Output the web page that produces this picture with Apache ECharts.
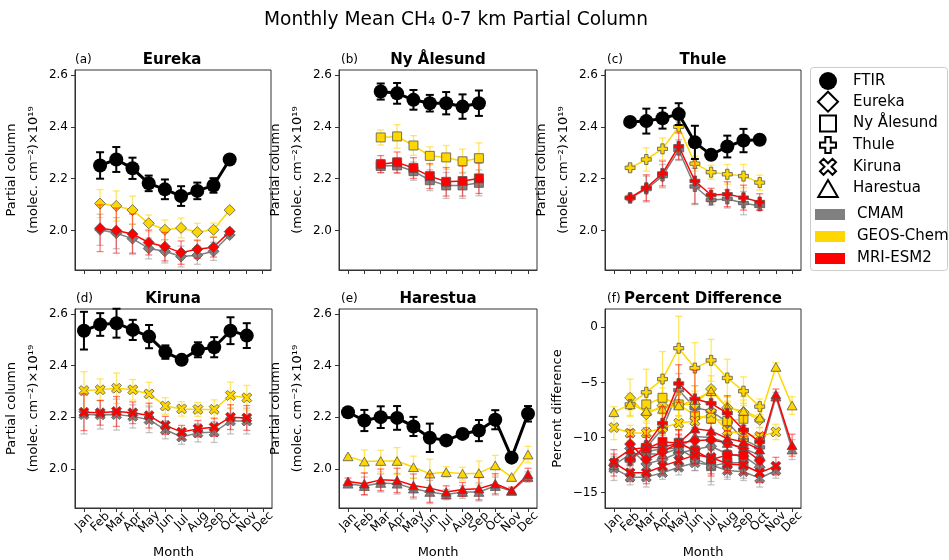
<!DOCTYPE html>
<html lang="en">
<head>
<meta charset="UTF-8">
<title>Monthly Mean CH4 0-7 km Partial Column</title>
<script src="https://cdn.jsdelivr.net/npm/echarts@6/dist/echarts.min.js"></script>
<style>
    html, body { margin: 0; background: #fff; }
    #main { width: 949px; height: 560px; }
</style>
</head>
<body>
<div id="main"></div>
<script>
    const _ = null;
    const months = ['Jan', 'Feb', 'Mar', 'Apr', 'May', 'Jun', 'Jul', 'Aug', 'Sep', 'Oct', 'Nov', 'Dec'];
    const monthTicks = [1, 2, 3, 4, 5, 6, 7, 8, 9, 10, 11, 12];
    const columnTicks = [2.0, 2.2, 2.4, 2.6];
    const pctTicks = [-15, -10, -5, 0];

    // partial column (x1e19 molec. cm-2), Jan..Dec, null = no data
    const eurFTIR  = [_, 2.251, 2.274, 2.240, 2.182, 2.159, 2.133, 2.153, 2.174, 2.274, _, _];
    const eurFTIRe = [_, 0.051, 0.048, 0.041, 0.030, 0.038, 0.038, 0.032, 0.028, 0.004, _, _];
    const eurGEOS  = [_, 2.104, 2.095, 2.079, 2.028, 2.003, 2.010, 1.994, 2.003, 2.079, _, _];
    const eurGEOSe = [_, 0.054, 0.058, 0.054, 0.032, 0.038, 0.038, 0.034, 0.026, 0.005, _, _];
    const eurMRI   = [_, 2.009, 2.000, 1.987, 1.954, 1.938, 1.915, 1.928, 1.936, 1.996, _, _];
    const eurMRIe  = [_, 0.090, 0.087, 0.077, 0.048, 0.055, 0.045, 0.035, 0.038, 0.010, _, _];
    const eurCMAM  = [_, 2.003, 1.990, 1.969, 1.931, 1.920, 1.900, 1.905, 1.920, 1.983, _, _];
    const eurCMAMe = [_, 0.060, 0.060, 0.055, 0.040, 0.045, 0.040, 0.035, 0.035, 0.010, _, _];

    const nyaFTIR  = [_, _, 2.536, 2.529, 2.504, 2.491, 2.491, 2.478, 2.491, _, _, _];
    const nyaFTIRe = [_, _, 0.031, 0.040, 0.038, 0.032, 0.043, 0.047, 0.049, _, _, _];
    const nyaGEOS  = [_, _, 2.359, 2.363, 2.328, 2.288, 2.282, 2.267, 2.279, _, _, _];
    const nyaGEOSe = [_, _, 0.029, 0.045, 0.038, 0.035, 0.046, 0.047, 0.059, _, _, _];
    const nyaMRI   = [_, _, 2.256, 2.263, 2.241, 2.210, 2.188, 2.191, 2.201, _, _, _];
    const nyaMRIe  = [_, _, 0.033, 0.040, 0.040, 0.048, 0.055, 0.058, 0.058, _, _, _];
    const nyaCMAM  = [_, _, 2.249, 2.251, 2.229, 2.194, 2.174, 2.174, 2.184, _, _, _];
    const nyaCMAMe = [_, _, 0.025, 0.030, 0.035, 0.040, 0.050, 0.050, 0.050, _, _, _];

    const thuFTIR  = [_, 2.419, 2.422, 2.433, 2.449, 2.340, 2.292, 2.324, 2.347, 2.350, _, _];
    const thuFTIRe = [_, 0.004, 0.048, 0.040, 0.042, 0.064, 0.004, 0.042, 0.045, 0.004, _, _];
    const thuGEOS  = [_, 2.242, 2.274, 2.315, 2.400, 2.258, 2.225, 2.217, 2.210, 2.185, _, _];
    const thuGEOSe = [_, 0.010, 0.045, 0.042, 0.022, 0.029, 0.027, 0.038, 0.045, 0.029, _, _];
    const thuMRI   = [_, 2.127, 2.165, 2.220, 2.325, 2.191, 2.137, 2.140, 2.127, 2.110, _, _];
    const thuMRIe  = [_, 0.010, 0.050, 0.048, 0.051, 0.087, 0.026, 0.048, 0.048, 0.032, _, _];
    const thuCMAM  = [_, 2.125, 2.160, 2.210, 2.310, 2.170, 2.118, 2.122, 2.106, 2.095, _, _];
    const thuCMAMe = [_, 0.010, 0.050, 0.045, 0.040, 0.070, 0.020, 0.035, 0.045, 0.015, _, _];

    const kirFTIR  = [2.535, 2.559, 2.564, 2.538, 2.512, 2.452, 2.422, 2.461, 2.471, 2.535, 2.516, _];
    const kirFTIRe = [0.073, 0.044, 0.056, 0.039, 0.045, 0.026, 0.016, 0.029, 0.039, 0.052, 0.048, _];
    const kirGEOS  = [2.303, 2.306, 2.312, 2.306, 2.290, 2.243, 2.232, 2.230, 2.230, 2.284, 2.275, _];
    const kirGEOSe = [0.073, 0.042, 0.059, 0.040, 0.045, 0.032, 0.028, 0.027, 0.037, 0.052, 0.048, _];
    const kirMRI   = [2.219, 2.217, 2.222, 2.217, 2.206, 2.168, 2.142, 2.155, 2.161, 2.200, 2.197, _];
    const kirMRIe  = [0.071, 0.048, 0.058, 0.042, 0.048, 0.035, 0.026, 0.032, 0.035, 0.048, 0.048, _];
    const kirCMAM  = [2.210, 2.209, 2.210, 2.203, 2.190, 2.151, 2.123, 2.139, 2.142, 2.185, 2.185, _];
    const kirCMAMe = [0.075, 0.055, 0.060, 0.045, 0.050, 0.035, 0.028, 0.035, 0.040, 0.050, 0.050, _];

    const harFTIR  = [2.219, 2.187, 2.200, 2.197, 2.164, 2.120, 2.110, 2.135, 2.148, 2.190, 2.043, 2.213];
    const harFTIRe = [0.004, 0.041, 0.042, 0.046, 0.037, 0.055, 0.005, 0.010, 0.041, 0.037, 0.004, 0.030];
    const harGEOS  = [2.048, 2.028, 2.030, 2.030, 2.006, 1.981, 1.987, 1.981, 1.983, 2.013, 1.968, 2.055];
    const harGEOSe = [0.005, 0.045, 0.042, 0.052, 0.043, 0.056, 0.021, 0.025, 0.047, 0.039, 0.005, 0.032];
    const harMRI   = [1.951, 1.942, 1.957, 1.955, 1.935, 1.925, 1.910, 1.920, 1.923, 1.942, 1.916, 1.978];
    const harMRIe  = [0.013, 0.042, 0.042, 0.047, 0.045, 0.055, 0.024, 0.027, 0.043, 0.039, 0.013, 0.024];
    const harCMAM  = [1.942, 1.933, 1.945, 1.942, 1.923, 1.910, 1.900, 1.910, 1.910, 1.933, 1.914, 1.968];
    const harCMAMe = [0.010, 0.035, 0.035, 0.040, 0.040, 0.045, 0.020, 0.025, 0.035, 0.035, 0.010, 0.020];

    // percent difference model vs FTIR
    const eurGEOSpct  = [_, -6.4, -7.9, -7.1, -7.0, -7.0, -5.6, -7.3, -7.7, -8.4, _, _];
    const eurGEOSpcte = [_, 1.7, 1.8, 1.6, 1.0, 1.2, 1.2, 1.0, 0.8, 0.3, _, _];
    const eurMRIpct   = [_, -10.6, -12.0, -11.3, -10.5, -10.3, -10.2, -10.5, -11.0, -12.1, _, _];
    const eurMRIpcte  = [_, 1.3, 1.3, 1.2, 0.8, 1.0, 0.9, 0.7, 0.6, 0.3, _, _];
    const eurCMAMpct  = [_, -11.0, -12.4, -12.0, -11.4, -11.1, -10.8, -11.5, -11.7, -12.7, _, _];
    const eurCMAMpcte = [_, 1.0, 1.0, 1.0, 0.7, 0.9, 0.8, 0.6, 0.6, 0.3, _, _];

    const nyaGEOSpct  = [_, _, -7.0, -6.4, -7.0, -8.0, -8.3, -8.5, -8.3, _, _, _];
    const nyaGEOSpcte = [_, _, 1.0, 1.5, 1.4, 1.3, 1.7, 1.8, 2.0, _, _, _];
    const nyaMRIpct   = [_, _, -11.0, -10.4, -10.5, -11.2, -12.0, -11.6, -11.6, _, _, _];
    const nyaMRIpcte  = [_, _, 1.0, 1.3, 1.2, 1.2, 1.5, 1.6, 1.7, _, _, _];
    const nyaCMAMpct  = [_, _, -11.3, -11.0, -11.0, -11.9, -12.6, -12.3, -12.3, _, _, _];
    const nyaCMAMpcte = [_, _, 0.9, 1.2, 1.2, 1.1, 1.4, 1.5, 1.6, _, _, _];

    const thuGEOSpct  = [_, -7.0, -5.9, -4.7, -1.9, -3.7, -3.0, -4.6, -5.8, -7.2, _, _];
    const thuGEOSpcte = [_, 0.5, 2.1, 2.5, 2.9, 2.3, 1.9, 1.7, 1.3, 0.7, _, _];
    const thuMRIpct   = [_, -12.0, -10.7, -8.7, -5.1, -6.5, -6.9, -7.8, -9.3, -10.4, _, _];
    const thuMRIpcte  = [_, 0.5, 1.6, 1.5, 1.7, 2.6, 0.9, 1.6, 1.3, 0.8, _, _];
    const thuCMAMpct  = [_, -12.1, -10.9, -9.2, -5.7, -7.3, -7.6, -8.6, -10.2, -10.9, _, _];
    const thuCMAMpcte = [_, 0.5, 1.5, 1.4, 1.5, 2.0, 0.8, 1.4, 1.3, 0.6, _, _];

    const kirGEOSpct  = [-9.1, -9.6, -9.6, -9.1, -8.7, -8.5, -7.8, -9.4, -9.7, -9.9, -9.5, _];
    const kirGEOSpcte = [1.1, 0.7, 0.9, 0.6, 0.7, 0.6, 0.5, 0.5, 0.6, 0.8, 0.7, _];
    const kirMRIpct   = [-12.3, -13.2, -13.2, -12.6, -12.1, -11.6, -11.8, -12.4, -12.5, -13.2, -12.6, _];
    const kirMRIpcte  = [1.2, 0.8, 1.0, 0.7, 0.8, 0.8, 1.5, 0.6, 0.7, 0.9, 0.8, _];
    const kirCMAMpct  = [-12.8, -13.6, -13.6, -13.2, -12.7, -12.3, -12.5, -13.0, -13.1, -13.7, -13.0, _];
    const kirCMAMpcte = [1.1, 0.7, 0.9, 0.6, 0.7, 0.7, 1.8, 0.6, 0.6, 0.8, 0.7, _];

    const harGEOSpct  = [-7.7, -7.0, -7.6, -7.4, -7.1, -6.6, -5.8, -7.3, -7.6, -8.2, -3.6, -7.1];
    const harGEOSpcte = [0.5, 1.0, 0.9, 1.1, 1.0, 1.3, 0.5, 0.5, 1.0, 0.9, 0.4, 0.8];
    const harMRIpct   = [-12.1, -11.1, -10.9, -10.9, -10.5, -9.2, -9.4, -10.1, -10.4, -11.1, -6.1, -10.7];
    const harMRIpcte  = [0.6, 1.2, 1.1, 1.3, 1.2, 1.5, 0.7, 0.7, 1.2, 1.0, 0.5, 1.0];
    const harCMAMpct  = [-12.5, -11.5, -11.5, -11.5, -11.0, -9.9, -10.0, -10.5, -11.0, -11.6, -6.3, -11.1];
    const harCMAMpcte = [0.5, 1.0, 1.0, 1.1, 1.0, 1.3, 0.6, 0.6, 1.0, 0.9, 0.4, 0.9];

    const FONT = 'DejaVu Sans';
    const shapes = {
        diamond: 'path://M5,0L10,5L5,10L0,5Z',
        square: 'path://M0,0H10V10H0Z',
        plus: 'path://M3.3,0H6.7V3.3H10V6.7H6.7V10H3.3V6.7H0V3.3H3.3Z',
        cross: 'path://M2.2,0L5,2.8L7.8,0L10,2.2L7.2,5L10,7.8L7.8,10L5,7.2L2.2,10L0,7.8L2.8,5L0,2.2Z',
        triangle: 'path://M5,0L10,8.66L0,8.66Z'
    };
    // same shapes with empty margin so the legend icons come out at their own sizes
    const legendIcons = {
        circle: 'path://M0,0M10,10M0.5,5A4.5,4.5,0,1,1,9.5,5A4.5,4.5,0,1,1,0.5,5Z',
        diamond: 'path://M5,0L10,5L5,10L0,5Z',
        square: 'path://M-1.25,-1.25M11.25,11.25M0,0H10V10H0Z',
        plus: 'path://M-1.25,-1.25M11.25,11.25M3.3,0H6.7V3.3H10V6.7H6.7V10H3.3V6.7H0V3.3H3.3Z',
        cross: 'path://M-1.25,-1.25M11.25,11.25M2.2,0L5,2.8L7.8,0L10,2.2L7.2,5L10,7.8L7.8,10L5,7.2L2.2,10L0,7.8L2.8,5L0,2.2Z',
        triangle: 'path://M5,-0.8M5,9.46M5,0L10,8.66L0,8.66Z'
    };
    const models = {
        CMAM:  {line: '#808080', err: 'rgba(128,128,128,0.45)', z: 2},
        GEOS:  {line: '#FFD700', err: 'rgba(255,215,0,0.6)', z: 4},
        MRI:   {line: '#FF0000', err: 'rgba(255,0,0,0.5)', z: 6},
        FTIR:  {line: '#000000', err: '#000000', z: 8}
    };

    const sites = [
        {name: 'Eureka', tag: '(a)', shape: shapes.diamond, size: 11,
         FTIR: [eurFTIR, eurFTIRe], GEOS: [eurGEOS, eurGEOSe], MRI: [eurMRI, eurMRIe], CMAM: [eurCMAM, eurCMAMe],
         pct: {GEOS: [eurGEOSpct, eurGEOSpcte], MRI: [eurMRIpct, eurMRIpcte], CMAM: [eurCMAMpct, eurCMAMpcte]}},
        {name: 'Ny Ålesund', tag: '(b)', shape: shapes.square, size: 9,
         FTIR: [nyaFTIR, nyaFTIRe], GEOS: [nyaGEOS, nyaGEOSe], MRI: [nyaMRI, nyaMRIe], CMAM: [nyaCMAM, nyaCMAMe],
         pct: {GEOS: [nyaGEOSpct, nyaGEOSpcte], MRI: [nyaMRIpct, nyaMRIpcte], CMAM: [nyaCMAMpct, nyaCMAMpcte]}},
        {name: 'Thule', tag: '(c)', shape: shapes.plus, size: 10,
         FTIR: [thuFTIR, thuFTIRe], GEOS: [thuGEOS, thuGEOSe], MRI: [thuMRI, thuMRIe], CMAM: [thuCMAM, thuCMAMe],
         pct: {GEOS: [thuGEOSpct, thuGEOSpcte], MRI: [thuMRIpct, thuMRIpcte], CMAM: [thuCMAMpct, thuCMAMpcte]}},
        {name: 'Kiruna', tag: '(d)', shape: shapes.cross, size: 10,
         FTIR: [kirFTIR, kirFTIRe], GEOS: [kirGEOS, kirGEOSe], MRI: [kirMRI, kirMRIe], CMAM: [kirCMAM, kirCMAMe],
         pct: {GEOS: [kirGEOSpct, kirGEOSpcte], MRI: [kirMRIpct, kirMRIpcte], CMAM: [kirCMAMpct, kirCMAMpcte]}},
        {name: 'Harestua', tag: '(e)', shape: shapes.triangle, size: 10,
         FTIR: [harFTIR, harFTIRe], GEOS: [harGEOS, harGEOSe], MRI: [harMRI, harMRIe], CMAM: [harCMAM, harCMAMe],
         pct: {GEOS: [harGEOSpct, harGEOSpcte], MRI: [harMRIpct, harMRIpcte], CMAM: [harCMAMpct, harCMAMpcte]}}
    ];

    const boxes = [
        {left: 73, top: 70, width: 198, height: 200},
        {left: 339, top: 70, width: 198, height: 200},
        {left: 605, top: 70, width: 196, height: 200},
        {left: 74, top: 309, width: 198, height: 199},
        {left: 339, top: 309, width: 198, height: 199},
        {left: 605, top: 309, width: 196, height: 199}
    ];
    const xMin = 0.45, xMax = 12.55;

    function minus(v) {
        return v < 0 ? '\u2212' + Math.abs(v) : String(v);
    }

    // vertical error bar with caps
    function errorBar(color, width, cap) {
        return function (params, api) {
            const lo = api.coord([api.value(0), api.value(1)]);
            const hi = api.coord([api.value(0), api.value(2)]);
            const st = {stroke: color, lineWidth: width};
            return {
                type: 'group',
                children: [
                    {type: 'line', shape: {x1: lo[0], y1: lo[1], x2: hi[0], y2: hi[1]}, style: st},
                    {type: 'line', shape: {x1: lo[0] - cap, y1: lo[1], x2: lo[0] + cap, y2: lo[1]}, style: st},
                    {type: 'line', shape: {x1: hi[0] - cap, y1: hi[1], x2: hi[0] + cap, y2: hi[1]}, style: st}
                ]
            };
        };
    }

    function addSeries(series, idx, label, model, pair, symbol, size) {
        const vals = pair[0], errs = pair[1];
        const pts = [], bars = [];
        vals.forEach((v, i) => {
            if (v === null) return;
            pts.push([i + 1, v]);
            bars.push([i + 1, v - errs[i], v + errs[i]]);
        });
        const m = models[model];
        const isFTIR = model === 'FTIR';
        series.push({
            name: label + ' ' + model + ' err', type: 'custom', xAxisIndex: idx, yAxisIndex: idx,
            renderItem: errorBar(m.err, isFTIR ? 2 : 1.3, isFTIR ? 4 : 3.5),
            encode: {x: 0, y: [1, 2]}, data: bars, z: m.z, silent: true
        });
        series.push({
            name: label + ' ' + model, type: 'line', xAxisIndex: idx, yAxisIndex: idx, data: pts,
            symbol: isFTIR ? 'circle' : symbol, symbolSize: isFTIR ? 14 : size, symbolKeepAspect: true,
            showSymbol: true, z: m.z + 1,
            lineStyle: {color: m.line, width: isFTIR ? 3 : 1.5},
            itemStyle: {color: m.line, borderColor: isFTIR ? '#000' : '#555', borderWidth: isFTIR ? 0 : 0.8}
        });
    }

    const grid = [], xAxis = [], yAxis = [], series = [], title = [];
    const textBase = {fontFamily: FONT, color: '#000'};

    title.push({
        text: 'Monthly Mean CH₄ 0-7 km Partial Column', left: 456, top: 11, textAlign: 'center', padding: 0,
        textStyle: Object.assign({fontSize: 18.6, fontWeight: 'normal'}, textBase)
    });

    boxes.forEach((b, i) => {
        const bottomRow = i >= 3;
        const isPct = i === 5;
        grid.push(Object.assign({show: true, borderColor: '#333', borderWidth: 1, backgroundColor: '#fff', containLabel: false}, b));
        xAxis.push({
            type: 'value', gridIndex: i, min: xMin, max: xMax,
            axisLine: {show: true, onZero: false, lineStyle: {color: '#333'}},
            axisTick: {show: true, customValues: monthTicks, length: 4, lineStyle: {color: '#333'}},
            axisLabel: {
                // blank labels at both ends take the min/max label slots, so no month gets dropped
                show: bottomRow, customValues: [xMin].concat(monthTicks, [xMax]),
                formatter: v => months[v - 1] || '',
                showMinLabel: false, showMaxLabel: false,
                rotate: 45, align: 'center', verticalAlign: 'middle', margin: 14,
                fontFamily: FONT, fontSize: 12, color: '#000'
            },
            splitLine: {show: false},
            name: bottomRow ? 'Month' : '', nameLocation: 'middle', nameGap: 38,
            nameTextStyle: Object.assign({fontSize: 13}, textBase)
        });
        yAxis.push({
            type: 'value', gridIndex: i,
            min: isPct ? -16.4 : 1.848, max: isPct ? 1.66 : 2.619,
            axisLine: {show: true, lineStyle: {color: '#333'}},
            axisTick: {show: true, customValues: isPct ? pctTicks : columnTicks, length: 4, lineStyle: {color: '#333'}},
            axisLabel: {
                customValues: isPct ? pctTicks : columnTicks,
                formatter: v => isPct ? minus(v) : v.toFixed(1),
                margin: 7, fontFamily: FONT, fontSize: 12, color: '#000'
            },
            splitLine: {show: false},
            name: isPct ? 'Percent difference' : 'Partial column\n(molec. cm⁻²)×10¹⁹',
            nameLocation: 'middle', nameRotate: 90, nameGap: isPct ? 30 : 23,
            nameTextStyle: Object.assign({fontSize: 13, lineHeight: 22}, textBase)
        });
        const cx = b.left + b.width / 2;
        const ty = b.top - 17;
        title.push({
            text: isPct ? 'Percent Difference' : sites[i].name, left: cx, top: ty, textAlign: 'center', padding: 0,
            textStyle: Object.assign({fontSize: 15, fontWeight: 'bold'}, textBase)
        });
        title.push({
            text: isPct ? '(f)' : sites[i].tag, left: b.left + 2, top: ty + 1, padding: 0,
            textStyle: Object.assign({fontSize: 12, fontWeight: 'normal'}, textBase)
        });
    });

    sites.forEach((s, i) => {
        ['CMAM', 'GEOS', 'MRI', 'FTIR'].forEach(m => addSeries(series, i, s.name, m, s[m], s.shape, s.size));
        ['CMAM', 'GEOS', 'MRI'].forEach(m => addSeries(series, 5, s.name + ' pct', m, s.pct[m], s.shape, s.size));
    });

    // legend-only entries
    const outline = {color: '#fff', borderColor: '#000', borderWidth: 2, opacity: 1};
    const legendMarks = [
        {name: 'FTIR', icon: legendIcons.circle, itemStyle: {color: '#000', borderColor: '#000', borderWidth: 0, opacity: 1}},
        {name: 'Eureka', icon: legendIcons.diamond, itemStyle: outline},
        {name: 'Ny Ålesund', icon: legendIcons.square, itemStyle: outline},
        {name: 'Thule', icon: legendIcons.plus, itemStyle: outline},
        {name: 'Kiruna', icon: legendIcons.cross, itemStyle: outline},
        {name: 'Harestua', icon: legendIcons.triangle, itemStyle: outline}
    ];
    const legendColors = [
        {name: 'CMAM', icon: 'rect', itemStyle: {color: '#808080', borderWidth: 0, opacity: 1}},
        {name: 'GEOS-Chem', icon: 'rect', itemStyle: {color: '#FFD700', borderWidth: 0, opacity: 1}},
        {name: 'MRI-ESM2', icon: 'rect', itemStyle: {color: '#FF0000', borderWidth: 0, opacity: 1}}
    ];
    legendMarks.concat(legendColors).forEach(d => {
        series.push({name: d.name, type: 'scatter', xAxisIndex: 0, yAxisIndex: 0, data: [], itemStyle: d.itemStyle});
    });

    const myChart = echarts.init(document.getElementById('main'), null, {renderer: 'canvas'});
    myChart.setOption({
        animation: false,
        backgroundColor: '#fff',
        title: title,
        grid: grid,
        xAxis: xAxis,
        yAxis: yAxis,
        legend: [
            {
                orient: 'vertical', left: 817, top: 71, itemWidth: 30, itemHeight: 20, itemGap: -0.3, padding: 0,
                selectedMode: false, data: legendMarks,
                textStyle: {fontFamily: FONT, fontSize: 15, color: '#000', padding: [0, 0, 0, 5]}
            },
            {
                orient: 'vertical', left: 815, top: 207, itemWidth: 30, itemHeight: 11, itemGap: 7, padding: 0,
                selectedMode: false, data: legendColors,
                textStyle: {fontFamily: FONT, fontSize: 15, color: '#000', padding: [0, 0, 0, 7]}
            }
        ],
        graphic: [{
            type: 'rect', z: 0, silent: true,
            shape: {x: 810.5, y: 67.5, width: 137, height: 203, r: 3},
            style: {fill: '#fff', stroke: '#cccccc', lineWidth: 1}
        }],
        series: series
    });
</script>
</body>
</html>
